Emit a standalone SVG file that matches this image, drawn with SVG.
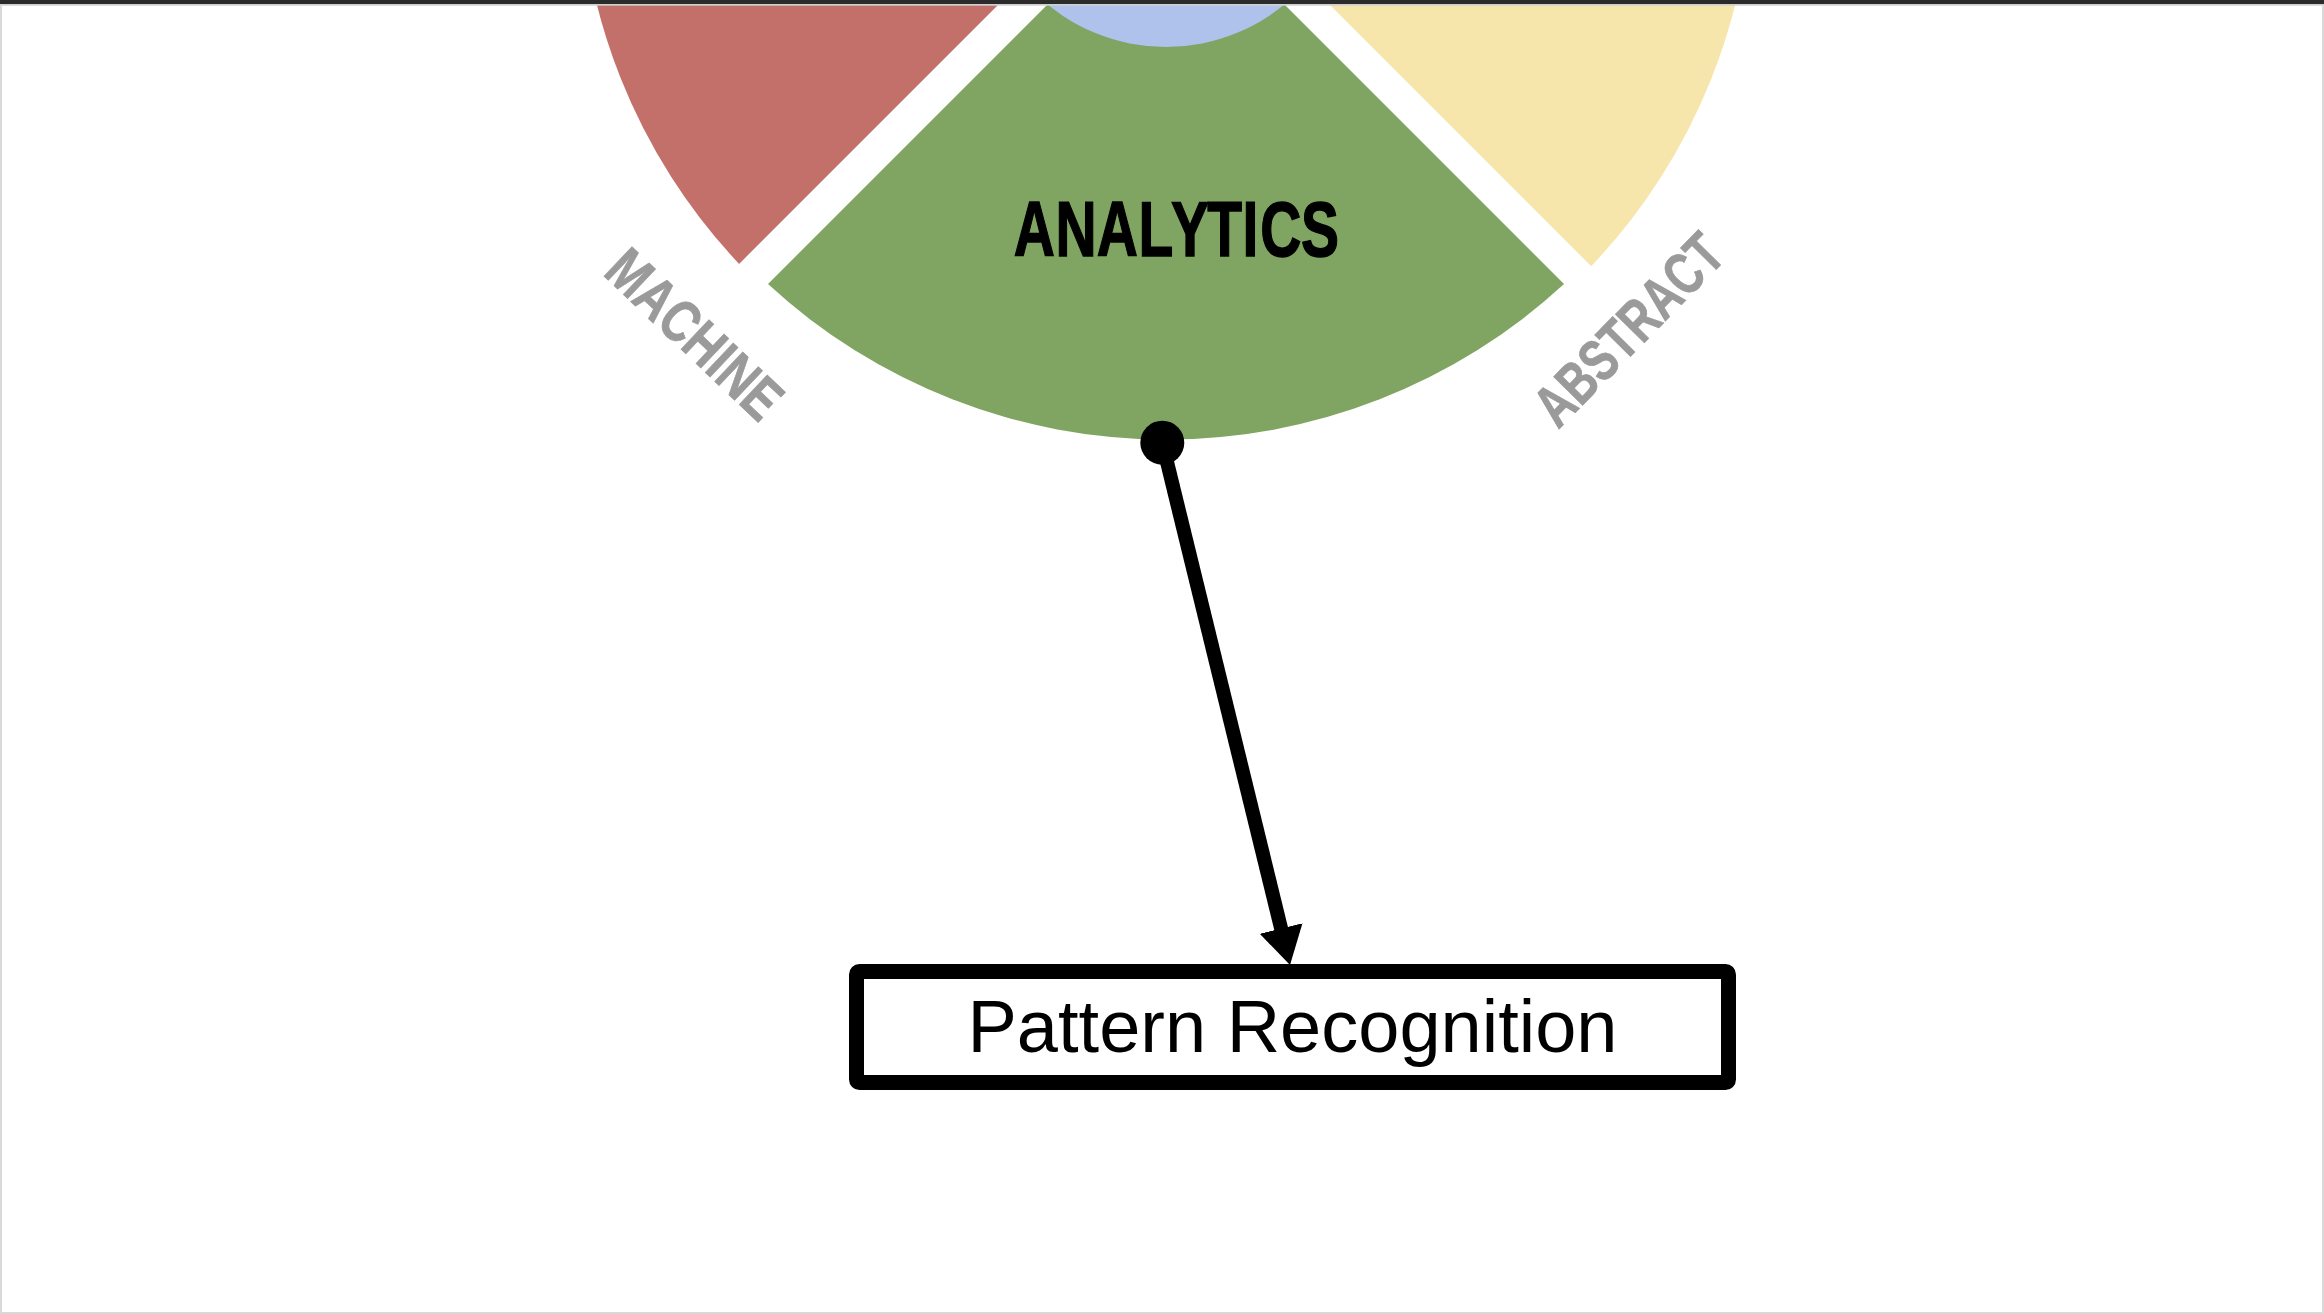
<svg xmlns="http://www.w3.org/2000/svg" width="2324" height="1314" viewBox="0 0 2324 1314">
  <style>
    text { font-kerning: none; }
    .sector-label { font-family: "Liberation Sans", "Arial", sans-serif; font-weight: 700; fill: #9a9a9a; stroke: #9a9a9a; stroke-width: 0.8; font-size: 59px; }
    .main-label { font-family: "Liberation Sans", "Arial", sans-serif; font-weight: 700; fill: #000000; stroke: #000000; stroke-width: 1.4; font-size: 78px; }
    .box-label { font-family: "Liberation Sans", "Arial", sans-serif; fill: #000000; font-size: 74px; }
    .box { fill: #ffffff; stroke: #000000; stroke-width: 15; stroke-linejoin: round; }
    .conn { stroke: #000000; stroke-width: 14; fill: none; }
  </style>
  <defs>
    <marker id="arrowhead" markerUnits="userSpaceOnUse" markerWidth="40" markerHeight="46" refX="7.6" refY="23" orient="auto" viewBox="0 0 40 46">
      <path d="M0,1 L37.6,23 L0,45 Z" fill="#000000"/>
    </marker>
  </defs>
  <rect x="0" y="0" width="2324" height="1314" fill="#ffffff"/>

  <g id="wheel">
    <g id="sector-machine">
      <path d="M1142,-139 L739.1,263.9 A587,587 0 0 1 579,-139 Z" fill="#c3706a"/>
    </g>
    <g id="sector-abstract">
      <path d="M1186,-139 L1591.2,266.2 A587,587 0 0 0 1753,-139 Z" fill="#f7e6ab"/>
    </g>
    <g id="sector-analytics">
      <path d="M1166,-114 L768,284 A587,587 0 0 0 1564,284 Z" fill="#80a461"/>
      <text class="main-label" transform="scale(0.73,1)" x="1388.8 1445.9 1502.5 1559.6 1604.0 1653.7 1702.1 1726.3 1782.3" y="256">ANALYTICS</text>
    </g>
    <g id="center-circle">
      <circle cx="1166" cy="-139" r="186" fill="#aec2ec"/>
    </g>
    <g id="label-machine">
      <text class="sector-label" transform="translate(601.7,274) rotate(43.5) scale(0.79,1)" x="0" y="0">MACHINE</text>
    </g>
    <g id="label-abstract">
      <text class="sector-label" transform="translate(1558.3,430) rotate(-45.5) scale(0.745,1)" x="0" y="0">ABSTRACT</text>
    </g>
  </g>

  <g id="connectors">
    <circle cx="1162.3" cy="442.7" r="22" fill="#000000"/>
    <line class="conn" x1="1162.3" y1="442.7" x2="1282.9" y2="935.9" marker-end="url(#arrowhead)"/>
  </g>

  <g id="node-pattern-recognition">
    <rect class="box" x="856.5" y="971.5" width="872" height="111" rx="3"/>
    <text class="box-label" x="1292.5" y="1052" text-anchor="middle">Pattern Recognition</text>
  </g>

  <g id="frame">
    <rect x="0" y="0" width="2324" height="4" fill="#2b2b2b"/>
    <rect x="0" y="4" width="2324" height="1.7" fill="#cfcfcf"/>
    <rect x="0" y="5.7" width="2" height="1308.3" fill="#d9d9d9"/>
    <rect x="2322" y="5.7" width="2" height="1308.3" fill="#d9d9d9"/>
    <rect x="0" y="1312" width="2324" height="2" fill="#d9d9d9"/>
  </g>
</svg>
